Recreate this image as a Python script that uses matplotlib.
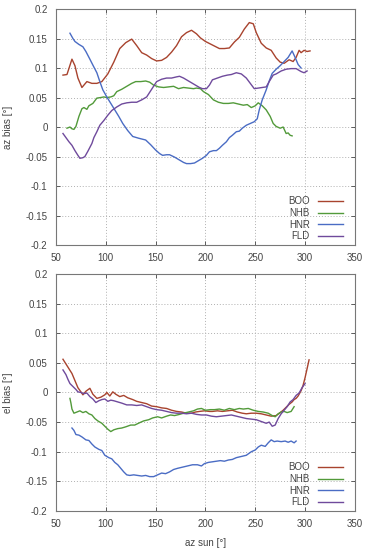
import matplotlib
matplotlib.use("Agg")
import matplotlib.pyplot as plt

plt.rcParams['font.family'] = ['Liberation Sans', 'DejaVu Sans']

# ---------------- top panel: az bias ----------------
boo_az_x = [57, 61, 66, 69, 72, 76, 81, 86, 91, 96, 102, 108, 114, 120, 126, 131, 136, 141, 146, 151, 156, 161, 166, 171, 176, 181, 186, 191, 195, 200, 207, 214, 219, 224, 229, 234, 239, 244, 248, 251, 256, 261, 266, 271, 275, 279, 284, 288, 291, 294, 296, 299, 302, 305]
boo_az_y = [0.088, 0.089, 0.115, 0.104, 0.083, 0.067, 0.077, 0.074, 0.074, 0.077, 0.090, 0.110, 0.133, 0.143, 0.149, 0.138, 0.126, 0.122, 0.116, 0.112, 0.113, 0.118, 0.127, 0.138, 0.153, 0.160, 0.164, 0.158, 0.151, 0.145, 0.139, 0.133, 0.133, 0.134, 0.144, 0.152, 0.166, 0.177, 0.175, 0.160, 0.142, 0.134, 0.130, 0.117, 0.110, 0.108, 0.114, 0.111, 0.118, 0.130, 0.126, 0.130, 0.128, 0.129]

nhb_az_x = [61, 64, 66, 68, 70, 73, 76, 78, 81, 83, 87, 91, 95, 98, 101, 105, 108, 111, 116, 121, 126, 130, 135, 140, 144, 148, 153, 158, 163, 168, 173, 178, 183, 188, 191, 195, 198, 203, 208, 213, 218, 223, 228, 233, 238, 242, 246, 250, 253, 257, 261, 265, 268, 271, 275, 278, 281, 283, 285, 287]
nhb_az_y = [-0.002, 0.000, -0.003, -0.004, 0.001, 0.018, 0.031, 0.033, 0.030, 0.036, 0.040, 0.049, 0.050, 0.051, 0.050, 0.051, 0.053, 0.060, 0.064, 0.069, 0.074, 0.077, 0.077, 0.078, 0.076, 0.071, 0.068, 0.067, 0.068, 0.069, 0.065, 0.067, 0.066, 0.065, 0.066, 0.065, 0.060, 0.055, 0.046, 0.042, 0.040, 0.040, 0.041, 0.039, 0.037, 0.038, 0.033, 0.036, 0.041, 0.036, 0.029, 0.018, 0.006, 0.001, -0.002, 0.000, -0.011, -0.010, -0.014, -0.015]

hnr_az_x = [64, 67, 69, 73, 77, 80, 84, 87, 91, 94, 97, 101, 105, 109, 113, 117, 122, 127, 133, 140, 145, 150, 154, 157, 161, 164, 169, 174, 178, 181, 185, 189, 193, 197, 201, 204, 208, 211, 214, 217, 221, 224, 227, 231, 234, 237, 241, 245, 249, 252, 254, 257, 261, 264, 267, 271, 275, 279, 283, 287, 290, 293, 296]
hnr_az_y = [0.159, 0.150, 0.145, 0.140, 0.136, 0.128, 0.115, 0.105, 0.092, 0.077, 0.063, 0.051, 0.040, 0.029, 0.018, 0.006, -0.006, -0.016, -0.019, -0.022, -0.030, -0.039, -0.045, -0.048, -0.047, -0.047, -0.051, -0.056, -0.060, -0.062, -0.062, -0.061, -0.057, -0.053, -0.048, -0.042, -0.040, -0.040, -0.036, -0.031, -0.025, -0.018, -0.014, -0.008, -0.007, -0.002, 0.003, 0.006, 0.009, 0.014, 0.029, 0.046, 0.063, 0.078, 0.091, 0.098, 0.104, 0.111, 0.118, 0.129, 0.118, 0.106, 0.100]

fld_az_x = [57, 60, 63, 66, 69, 72, 74, 77, 79, 82, 86, 88, 91, 94, 98, 102, 106, 111, 116, 121, 126, 131, 136, 141, 146, 151, 156, 161, 166, 171, 174, 178, 181, 184, 189, 194, 197, 201, 204, 207, 212, 217, 222, 226, 231, 236, 241, 245, 249, 253, 257, 261, 264, 268, 271, 276, 281, 286, 291, 294, 296, 299, 302]
fld_az_y = [-0.011, -0.018, -0.025, -0.031, -0.040, -0.048, -0.053, -0.052, -0.050, -0.041, -0.028, -0.018, -0.008, 0.003, 0.011, 0.020, 0.028, 0.034, 0.039, 0.041, 0.042, 0.042, 0.046, 0.051, 0.064, 0.077, 0.081, 0.083, 0.083, 0.085, 0.086, 0.083, 0.080, 0.077, 0.072, 0.067, 0.065, 0.065, 0.071, 0.080, 0.083, 0.086, 0.088, 0.089, 0.092, 0.090, 0.083, 0.074, 0.065, 0.066, 0.067, 0.068, 0.077, 0.088, 0.090, 0.095, 0.098, 0.099, 0.099, 0.096, 0.094, 0.092, 0.095]

# ---------------- bottom panel: el bias ----------------
boo_el_x = [57, 60, 63, 66, 69, 72, 75, 77, 80, 84, 87, 91, 95, 99, 101, 104, 107, 110, 114, 118, 122, 127, 131, 136, 141, 146, 151, 156, 161, 166, 171, 176, 181, 186, 190, 194, 199, 204, 207, 212, 217, 222, 227, 232, 237, 241, 246, 251, 256, 261, 266, 271, 275, 278, 281, 284, 287, 289, 291, 293, 296, 298, 300, 302, 304]
boo_el_y = [0.056, 0.048, 0.040, 0.032, 0.020, 0.008, 0.001, -0.004, 0.002, 0.007, -0.003, -0.010, -0.008, -0.004, 0.000, -0.006, 0.001, -0.003, -0.007, -0.005, -0.009, -0.012, -0.015, -0.017, -0.019, -0.023, -0.024, -0.026, -0.027, -0.030, -0.032, -0.033, -0.035, -0.035, -0.033, -0.032, -0.031, -0.032, -0.032, -0.031, -0.032, -0.031, -0.030, -0.033, -0.035, -0.036, -0.035, -0.035, -0.036, -0.038, -0.040, -0.039, -0.034, -0.030, -0.025, -0.020, -0.016, -0.012, -0.010, -0.006, 0.003, 0.012, 0.025, 0.040, 0.055]

nhb_el_x = [64, 65, 66, 68, 71, 74, 77, 80, 83, 86, 89, 92, 96, 99, 102, 105, 108, 112, 116, 120, 125, 129, 134, 138, 143, 147, 152, 156, 161, 165, 169, 174, 178, 183, 188, 192, 196, 200, 205, 209, 214, 219, 224, 229, 234, 238, 243, 248, 253, 258, 263, 267, 270, 273, 276, 279, 282, 286, 289]
nhb_el_y = [-0.010, -0.018, -0.028, -0.035, -0.033, -0.031, -0.034, -0.032, -0.036, -0.038, -0.044, -0.048, -0.052, -0.057, -0.062, -0.066, -0.063, -0.061, -0.060, -0.058, -0.055, -0.055, -0.051, -0.048, -0.046, -0.043, -0.041, -0.043, -0.040, -0.038, -0.039, -0.037, -0.035, -0.033, -0.031, -0.028, -0.027, -0.030, -0.029, -0.029, -0.028, -0.030, -0.027, -0.029, -0.027, -0.028, -0.027, -0.030, -0.032, -0.033, -0.035, -0.039, -0.041, -0.036, -0.033, -0.032, -0.034, -0.032, -0.024]

hnr_el_x = [66, 68, 70, 73, 76, 80, 83, 86, 89, 93, 96, 99, 103, 106, 109, 112, 115, 118, 121, 124, 128, 132, 136, 140, 144, 148, 152, 156, 160, 164, 168, 172, 177, 182, 187, 192, 196, 199, 203, 207, 211, 215, 219, 223, 227, 231, 236, 241, 246, 250, 253, 256, 260, 263, 266, 269, 272, 276, 280, 283, 286, 289, 291]
hnr_el_y = [-0.060, -0.064, -0.071, -0.072, -0.075, -0.080, -0.081, -0.087, -0.092, -0.096, -0.098, -0.106, -0.110, -0.112, -0.118, -0.122, -0.128, -0.134, -0.139, -0.140, -0.139, -0.140, -0.141, -0.140, -0.142, -0.142, -0.139, -0.136, -0.137, -0.134, -0.130, -0.128, -0.126, -0.124, -0.122, -0.122, -0.124, -0.120, -0.118, -0.117, -0.116, -0.115, -0.116, -0.114, -0.113, -0.110, -0.108, -0.106, -0.100, -0.097, -0.092, -0.089, -0.091, -0.085, -0.080, -0.083, -0.082, -0.083, -0.082, -0.084, -0.082, -0.085, -0.082]

fld_el_x = [57, 60, 62, 64, 67, 70, 72, 75, 78, 81, 84, 87, 90, 93, 96, 99, 102, 105, 108, 112, 116, 121, 126, 131, 136, 141, 146, 151, 156, 161, 166, 171, 176, 181, 186, 191, 196, 201, 206, 211, 216, 221, 226, 231, 236, 241, 246, 251, 256, 261, 264, 267, 270, 273, 276, 279, 282, 285, 288, 291, 294, 297, 300]
fld_el_y = [0.038, 0.030, 0.022, 0.015, 0.010, 0.005, 0.001, 0.000, -0.002, -0.001, -0.007, -0.011, -0.017, -0.014, -0.012, -0.011, -0.015, -0.013, -0.014, -0.016, -0.018, -0.021, -0.021, -0.022, -0.021, -0.024, -0.027, -0.029, -0.030, -0.032, -0.034, -0.035, -0.035, -0.036, -0.035, -0.037, -0.038, -0.038, -0.040, -0.041, -0.040, -0.039, -0.038, -0.040, -0.042, -0.044, -0.045, -0.046, -0.049, -0.052, -0.050, -0.057, -0.055, -0.044, -0.036, -0.030, -0.024, -0.016, -0.012, -0.005, -0.001, 0.008, 0.015]

labels = ['BOO', 'NHB', 'HNR', 'FLD']
colors = ['#a8432e', '#529a3a', '#4a6cc4', '#6f4a9c']

x_ticks = [50, 100, 150, 200, 250, 300, 350]
y_ticks = [-0.2, -0.15, -0.1, -0.05, 0, 0.05, 0.1, 0.15, 0.2]
y_tick_labels = ['-0.2', '-0.15', '-0.1', '-0.05', '0', '0.05', '0.1', '0.15', '0.2']

fig = plt.figure(figsize=(3.67, 5.5), dpi=100)
ax1 = fig.add_axes([0.1526, 0.5545, 0.8144, 0.4291])
ax2 = fig.add_axes([0.1526, 0.0709, 0.8144, 0.4311])

txt_col = '#444444'
series_top = [(boo_az_x, boo_az_y), (nhb_az_x, nhb_az_y), (hnr_az_x, hnr_az_y), (fld_az_x, fld_az_y)]
series_bot = [(boo_el_x, boo_el_y), (nhb_el_x, nhb_el_y), (hnr_el_x, hnr_el_y), (fld_el_x, fld_el_y)]

for ax, series, ylab in [(ax1, series_top, 'az bias [°]'), (ax2, series_bot, 'el bias [°]')]:
    for (xs, ys), lab, c in zip(series, labels, colors):
        ax.plot(xs, ys, color=c, lw=1.0, label=lab)
    ax.set_xlim(50, 350)
    ax.set_ylim(-0.2, 0.2)
    ax.set_xticks(x_ticks)
    ax.set_xticklabels([str(v) for v in x_ticks])
    ax.set_yticks(y_ticks)
    ax.set_yticklabels(y_tick_labels)
    ax.grid(True, color='#b0b0b0', linestyle=(0, (1, 2)), linewidth=0.7)
    ax.tick_params(labelsize=7, colors=txt_col, length=3, width=0.6, direction='in',
                   top=True, right=True, pad=6)
    for sp in ax.spines.values():
        sp.set_color('#777777')
        sp.set_linewidth(0.8)
    ax.set_ylabel(ylab, fontsize=7, color=txt_col, labelpad=9)
    leg = ax.legend(loc='lower right', bbox_to_anchor=(0.96, 0.015), frameon=False,
                    markerfirst=False, fontsize=7, borderpad=0, borderaxespad=0,
                    handlelength=2.6, handletextpad=0.8, labelspacing=0.18,
                    labelcolor=txt_col)
    for t in leg.get_texts():
        t.set_ha('right')

ax2.set_xlabel('az sun [°]', fontsize=7, color=txt_col, labelpad=6)

fig.savefig('out.png', dpi=100)
